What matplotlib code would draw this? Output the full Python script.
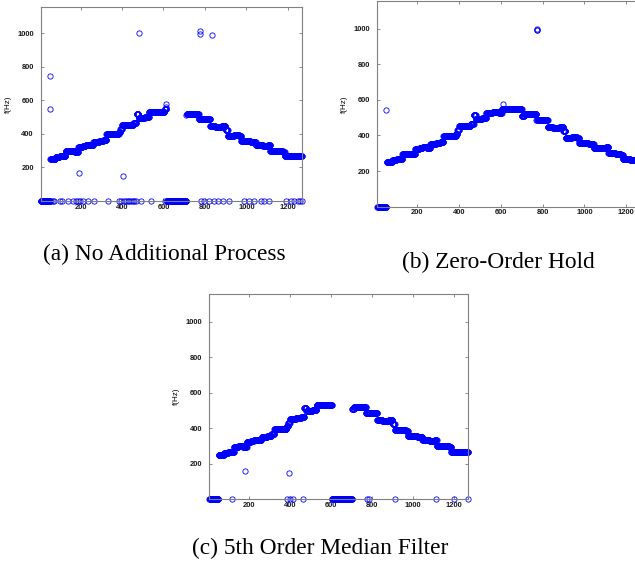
import numpy as np
import matplotlib.pyplot as plt

# sample range shown on the x axis
x_first = 8
x_last = 1268

# staircase pitch track: first sample of each plateau and its pitch (Hz)
step_start = [53, 80, 100, 128, 150, 172, 190, 210, 225, 245, 262, 290, 310,
              325, 360, 385, 392, 400, 430, 455, 470, 480, 510, 530, 560, 590,
              605, 700, 712, 770, 800, 825, 850, 880, 900, 910, 940, 965, 975,
              1020, 1045, 1080, 1105, 1115, 1150, 1175, 1185, 1220, 1250]
step_hz = [252, 262, 268, 296, 298, 294, 322, 328, 336, 332, 352, 358, 365,
           398, 398, 410, 430, 452, 455, 465, 515, 495, 500, 528, 532, 528,
           548, 510, 520, 488, 488, 445, 440, 445, 425, 388, 392, 385, 355,
           352, 332, 330, 335, 300, 298, 292, 268, 265, 268]

# (a) raw tracker output
a_zero_lead = 52
a_gap = (615, 710)
a_dropouts = [58, 66, 74, 99, 112, 139, 163, 176, 187, 199, 211, 235, 267, 331,
              387, 395, 403, 411, 419, 427, 435, 443, 451, 459, 467, 491, 539,
              608, 780, 797, 821, 845, 861, 885, 917, 989, 1013, 1037, 1069,
              1085, 1109, 1189, 1213, 1229, 1250, 1258, 1266]
a_outlier_x = [53, 54, 195, 403, 480, 612, 614, 776, 777, 832]
a_outlier_hz = [545, 745, 165, 150, 1000, 560, 580, 1010, 995, 990]

# (b) zero-order hold
b_zero_lead = 50
b_outlier_x = [51, 610, 772, 773, 774]
b_outlier_hz = [545, 575, 993, 990, 995]

# (c) 5th order median filter
c_zero_lead = 50
c_gap = (605, 702)
c_dropouts = [119, 384, 400, 417, 462, 776, 784, 911, 1110, 1200, 1265]
c_outlier_x = [184, 396]
c_outlier_hz = [162, 149]

samples = np.arange(x_first, x_last + 1)
lengths = np.diff(step_start + [x_last + 1])
base = np.zeros(len(samples))
base[samples >= step_start[0]] = np.repeat(step_hz, lengths)


def make_track(zero_lead, gap=None, dropouts=(), out_x=(), out_hz=()):
    f = base.copy()
    f[samples <= zero_lead] = 0
    if gap is not None:
        f[(samples >= gap[0]) & (samples <= gap[1])] = 0
    for d in dropouts:
        f[samples == d] = 0
    for xo, yo in zip(out_x, out_hz):
        f[samples == xo] = yo
    return f


track_a = make_track(a_zero_lead, a_gap, a_dropouts, a_outlier_x, a_outlier_hz)
track_b = make_track(b_zero_lead, None, (), b_outlier_x, b_outlier_hz)
track_c = make_track(c_zero_lead, c_gap, c_dropouts, c_outlier_x, c_outlier_hz)

fig = plt.figure(figsize=(6.35, 5.7), dpi=100)
W, H = 635.0, 570.0


def px_axes(left, top, right, bottom):
    return fig.add_axes([left / W, 1 - bottom / H, (right - left) / W, (bottom - top) / H])


ax_a = px_axes(40.7, 7, 302, 201)
ax_b = px_axes(377.3, 1, 640.3, 206.7)
ax_c = px_axes(209.3, 294, 468.3, 499.3)

for ax, f in [(ax_a, track_a), (ax_b, track_b), (ax_c, track_c)]:
    ax.plot(samples, f, 'o', color='blue', markerfacecolor='none',
            markersize=3.8, markeredgewidth=0.6, clip_on=False)
    ax.set_xlim(x_first, x_last)
    ax.set_ylim(0, 1155)
    ax.set_xticks([200, 400, 600, 800, 1000, 1200])
    ax.set_yticks([200, 400, 600, 800, 1000])
    ax.tick_params(direction='in', top=True, right=True, length=2.5, width=0.5,
                   color='0.35', labelsize=5.4, pad=2)
    ax.tick_params(axis='y', pad=5)
    for lab in ax.get_xticklabels() + ax.get_yticklabels():
        lab.set_family('Liberation Sans')
        lab.set_fontweight('bold')
        lab.set_color('0.1')
    for s in ax.spines.values():
        s.set_color('0.5')
        s.set_linewidth(0.8)
    ax.set_ylabel('f(Hz)', fontsize=5.8, family='Liberation Sans', labelpad=4)

cap = dict(ha='center', va='center', fontsize=16.8, family='Liberation Serif')
fig.text(164 / W, 1 - 254 / H, '(a) No Additional Process', **cap)
fig.text(498 / W, 1 - 262 / H, '(b) Zero-Order Hold', **cap)
fig.text(320 / W, 1 - 548 / H, '(c) 5th Order Median Filter', **cap)

fig.savefig('out.png', dpi=100)
